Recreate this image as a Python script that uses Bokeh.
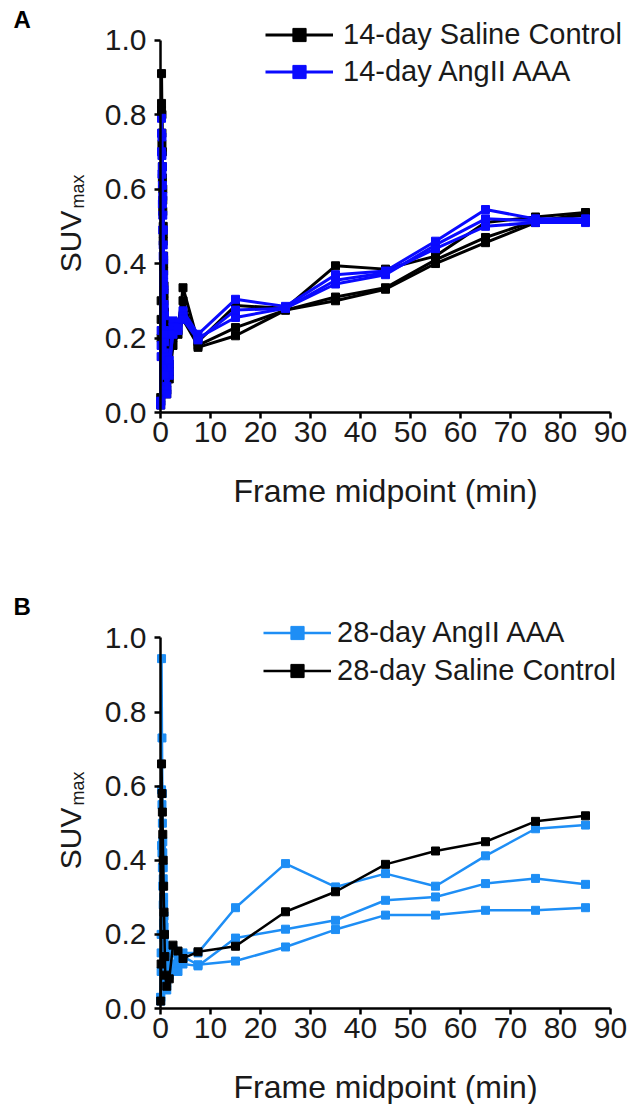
from bokeh.plotting import figure
from bokeh.models import Range1d, FixedTicker, Legend, LegendItem, Label
from bokeh.layouts import column
from bokeh.embed import file_html
from bokeh.resources import INLINE

# ---------------- data ----------------
t_min = [0.042, 0.125, 0.208, 0.292, 0.375, 0.458, 0.542, 0.625, 0.708, 0.792,
         0.875, 0.958, 1.25, 1.75, 2.5, 3.5, 4.5, 7.5, 15, 25, 35, 45, 55, 65, 75, 85]

# Panel A: 14-day
a_saline_1 = [0.03, 0.25, 0.91, 0.80, 0.70, 0.60, 0.50, 0.42, 0.34, 0.27, 0.20, 0.14, 0.06, 0.11,
              0.20, 0.22, 0.335, 0.19, 0.287, 0.28, 0.394, 0.385, 0.42, 0.51, 0.525, 0.537]
a_saline_2 = [0.02, 0.30, 0.83, 0.75, 0.66, 0.57, 0.48, 0.40, 0.32, 0.25, 0.19, 0.13, 0.08, 0.13,
              0.22, 0.24, 0.30, 0.175, 0.206, 0.275, 0.30, 0.331, 0.40, 0.456, 0.51, 0.535]
a_saline_3 = [0.04, 0.20, 0.81, 0.72, 0.63, 0.54, 0.46, 0.38, 0.30, 0.23, 0.17, 0.12, 0.05, 0.09,
              0.18, 0.21, 0.25, 0.18, 0.228, 0.275, 0.31, 0.335, 0.41, 0.47, 0.515, 0.53]
a_angii_1 = [0.03, 0.22, 0.79, 0.74, 0.66, 0.58, 0.49, 0.41, 0.33, 0.26, 0.19, 0.13, 0.07, 0.12,
             0.246, 0.24, 0.273, 0.21, 0.304, 0.285, 0.37, 0.38, 0.46, 0.545, 0.52, 0.52]
a_angii_2 = [0.02, 0.18, 0.75, 0.69, 0.61, 0.53, 0.45, 0.37, 0.29, 0.22, 0.16, 0.11, 0.06, 0.10,
             0.23, 0.22, 0.26, 0.20, 0.255, 0.28, 0.345, 0.37, 0.45, 0.52, 0.515, 0.515]
a_angii_3 = [0.03, 0.15, 0.70, 0.64, 0.56, 0.49, 0.42, 0.35, 0.28, 0.21, 0.15, 0.10, 0.05, 0.14,
             0.21, 0.23, 0.25, 0.195, 0.275, 0.28, 0.355, 0.375, 0.44, 0.50, 0.51, 0.51]

# Panel B: 28-day
b_angii_1 = [0.03, 0.15, 0.944, 0.73, 0.58, 0.45, 0.38, 0.30, 0.25, 0.20, 0.16, 0.13, 0.07, 0.10,
             0.16, 0.12, 0.15, 0.15, 0.272, 0.391, 0.328, 0.364, 0.33, 0.412, 0.485, 0.495]
b_angii_2 = [0.03, 0.20, 0.59, 0.55, 0.50, 0.42, 0.35, 0.28, 0.22, 0.17, 0.13, 0.10, 0.08, 0.11,
             0.15, 0.13, 0.12, 0.115, 0.19, 0.214, 0.238, 0.292, 0.301, 0.337, 0.351, 0.335]
b_angii_3 = [0.02, 0.10, 0.44, 0.42, 0.38, 0.33, 0.28, 0.23, 0.19, 0.15, 0.12, 0.09, 0.05, 0.09,
             0.12, 0.10, 0.14, 0.118, 0.128, 0.166, 0.213, 0.252, 0.252, 0.265, 0.265, 0.272]
b_saline_1 = [0.02, 0.12, 0.66, 0.58, 0.53, 0.47, 0.40, 0.33, 0.26, 0.20, 0.14, 0.09, 0.06, 0.08,
              0.171, 0.155, 0.135, 0.153, 0.168, 0.261, 0.315, 0.389, 0.425, 0.45, 0.505, 0.52]

x_ticks = [0, 10, 20, 30, 40, 50, 60, 70, 80, 90]
x_tick_labels = ["0", "10", "20", "30", "40", "50", "60", "70", "80", "90"]
y_ticks = [0.0, 0.2, 0.4, 0.6, 0.8, 1.0]
y_tick_labels = ["0.0", "0.2", "0.4", "0.6", "0.8", "1.0"]

# ---------------- style / layout constants ----------------
FONT = "Liberation Sans"
TXT = "#1a1a1a"
BLACK = "#000000"
BLUE_A = "#0a0aff"
BLUE_B = "#1e8ef5"

W = 628
AXIS_X0_PX = 160.0          # screen x of t = 0
PX_PER_MIN = 5.0
X_START = -AXIS_X0_PX / PX_PER_MIN
X_END = (W - AXIS_X0_PX) / PX_PER_MIN


def make_fig(height, zero_px, px_per_unit):
    p = figure(width=W, height=height, output_backend="svg", toolbar_location=None,
               x_range=Range1d(X_START, X_END),
               y_range=Range1d(-(height - zero_px) / px_per_unit, zero_px / px_per_unit),
               min_border_left=0, min_border_right=0, min_border_top=0, min_border_bottom=0)
    p.xgrid.visible = False
    p.ygrid.visible = False
    p.outline_line_color = None
    p.background_fill_color = "white"
    for ax in (p.xaxis[0], p.yaxis[0]):
        ax.axis_line_width = 2.5
        ax.axis_line_color = BLACK
        ax.major_tick_line_width = 2.5
        ax.major_tick_line_color = BLACK
        ax.major_tick_out = 6
        ax.major_tick_in = 0
        ax.minor_tick_out = 0
        ax.minor_tick_in = 0
        ax.major_label_text_font = FONT
        ax.major_label_text_font_size = "30px"
        ax.major_label_text_color = TXT
        ax.fixed_location = 0
    p.xaxis.ticker = FixedTicker(ticks=x_ticks)
    p.xaxis.major_label_overrides = dict(zip(x_ticks, x_tick_labels))
    p.xaxis.bounds = (x_ticks[0], x_ticks[-1])
    p.yaxis.ticker = FixedTicker(ticks=y_ticks)
    p.yaxis.major_label_overrides = dict(zip(y_ticks, y_tick_labels))
    p.yaxis.bounds = (y_ticks[0], y_ticks[-1])
    p.xaxis.major_label_standoff = 3
    p.yaxis.major_label_standoff = 8
    return p, px_per_unit


def add_series(p, ys, color, lw):
    lr = p.line(t_min, ys, line_color=color, line_width=lw)
    sr = p.scatter(t_min, ys, marker="square", size=8, fill_color=color, line_color=color)
    return lr, sr


def add_texts(p, ppu, letter, letter_y):
    p.add_layout(Label(x=-29.4, y=letter_y, text=letter, text_font=FONT, text_font_size="24px",
                       text_font_style="bold", text_color=BLACK, text_baseline="alphabetic"))
    p.add_layout(Label(x=-18.0, y=0.5424, text="SUV", angle=1.5707963, text_align="right",
                       text_baseline="alphabetic", text_font=FONT, text_font_size="30px",
                       text_color=TXT))
    p.add_layout(Label(x=-16.6, y=0.5478, text="max", angle=1.5707963, text_align="left",
                       text_baseline="alphabetic", text_font=FONT, text_font_size="18px",
                       text_color=TXT))
    p.add_layout(Label(x=45, y=-78.0 / ppu, text="Frame midpoint (min)", text_align="center",
                       text_baseline="middle", text_font=FONT, text_font_size="32px",
                       text_color=TXT))


def add_legend(p, items, vx, vy, spacing, standoff):
    leg = Legend(items=[LegendItem(label=lab, renderers=list(rs)) for lab, rs in items],
                 location=(vx, vy), orientation="vertical", glyph_width=68, glyph_height=33,
                 label_height=33, label_standoff=standoff, spacing=spacing, padding=0, margin=0,
                 border_line_alpha=0, background_fill_alpha=0, label_text_font=FONT,
                 label_text_font_size="29px", label_text_color=TXT)
    p.add_layout(leg)


# ---------------- panel A ----------------
pA, ppuA = make_fig(576, 412, 372.4)
sal_A = [add_series(pA, ys, BLACK, 3) for ys in (a_saline_1, a_saline_2, a_saline_3)]
ang_A = [add_series(pA, ys, BLUE_A, 3) for ys in (a_angii_1, a_angii_2, a_angii_3)]
add_texts(pA, ppuA, "A", 1.055)
add_legend(pA, [("14-day Saline Control", sal_A[0]), ("14-day AngII AAA", ang_A[0])],
           265, 576 - 88.2, 4, 10)

# ---------------- panel B ----------------
pB, ppuB = make_fig(528, 432, 370.6)
ang_B = [add_series(pB, ys, BLUE_B, 2.5) for ys in (b_angii_1, b_angii_2, b_angii_3)]
sal_B = [add_series(pB, ys, BLACK, 2.5) for ys in (b_saline_1,)]
add_texts(pB, ppuB, "B", 1.085)
add_legend(pB, [("28-day AngII AAA", ang_B[0]), ("28-day Saline Control", sal_B[0])],
           263, 528 - (686.5 - 576), 5, 6)

layout = column(pA, pB, spacing=0)
open("out.html", "w").write(file_html(layout, INLINE))
